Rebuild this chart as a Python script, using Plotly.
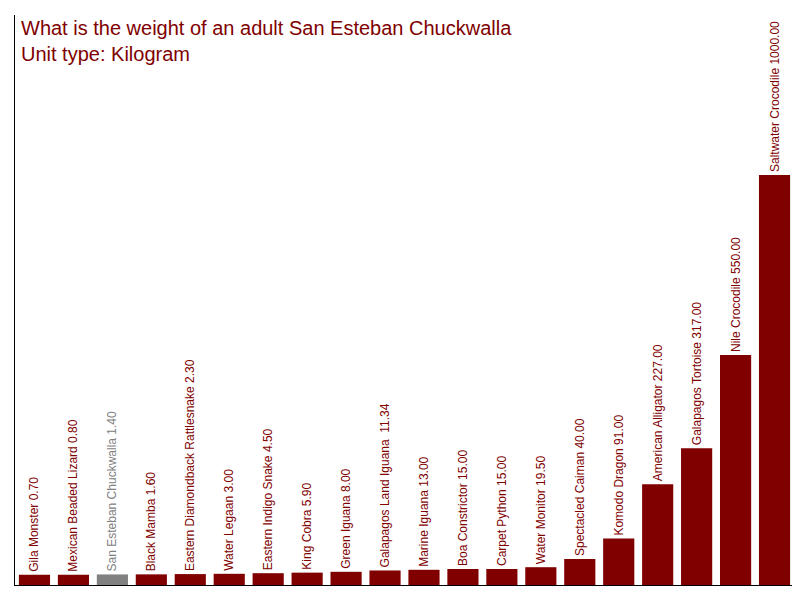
import plotly.graph_objects as go

animals = ["Gila Monster", "Mexican Beaded Lizard", "San Esteban Chuckwalla", "Black Mamba",
           "Eastern Diamondback Rattlesnake", "Water Legaan", "Eastern Indigo Snake", "King Cobra",
           "Green Iguana", "Galapagos Land Iguana ", "Marine Iguana", "Boa Constrictor",
           "Carpet Python", "Water Monitor", "Spectacled Caiman", "Komodo Dragon",
           "American Alligator", "Galapagos Tortoise", "Nile Crocodile", "Saltwater Crocodile"]
weights = [0.70, 0.80, 1.40, 1.60, 2.30, 3.00, 4.50, 5.90, 8.00, 11.34, 13.00, 15.00,
           15.00, 19.50, 40.00, 91.00, 227.00, 317.00, 550.00, 1000.00]
highlight = "San Esteban Chuckwalla"

offset = 25  # minimum visible bar stub below zero
colors = ["#808080" if a == highlight else "#800000" for a in animals]
labels = [f"{a} {w:.2f}" for a, w in zip(animals, weights)]

fig = go.Figure(go.Bar(
    x=animals, y=[w + offset for w in weights], base=-offset,
    marker=dict(color=colors, line=dict(width=0)),
    text=labels, textposition="outside", textangle=-90,
    textfont=dict(color=colors, size=12, family="Arial"),
    constraintext="none", cliponaxis=False, hoverinfo="skip",
))
fig.update_layout(
    width=800, height=600,
    plot_bgcolor="white", paper_bgcolor="white",
    margin=dict(l=7, r=14, t=7, b=23),
    bargap=0.2, showlegend=False,
    xaxis=dict(showticklabels=False, showline=True, linecolor="black", ticks=""),
    yaxis=dict(range=[-offset, 1400], showticklabels=False, showgrid=False, zeroline=False,
               showline=True, linecolor="black"),
    annotations=[dict(x=0.005, y=1.0, xref="paper", yref="paper", xanchor="left", yanchor="top",
                      align="left", showarrow=False,
                      text="What is the weight of an adult San Esteban Chuckwalla<br>Unit type: Kilogram",
                      font=dict(size=20, color="#800000", family="Arial"))],
)
fig.write_html("out.html")
